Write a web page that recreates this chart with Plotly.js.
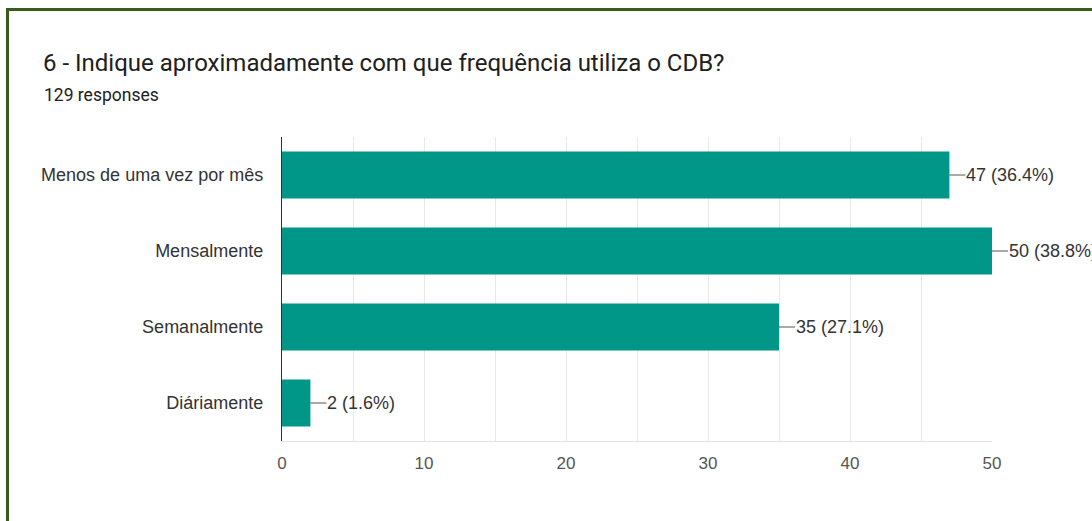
<!DOCTYPE html>
<html>
<head>
<meta charset="utf-8">
<script src="https://cdn.plot.ly/plotly-3.0.1.min.js"></script>
<style>
html,body{margin:0;padding:0;background:#fff;overflow:hidden;}
#frame{position:absolute;left:6px;top:8px;width:1200px;height:600px;border-top:3px solid #3b5a1e;border-left:3px solid #3b5a1e;box-sizing:border-box;}
#chart{position:absolute;left:0;top:0;width:1092px;height:521px;}
</style>
</head>
<body>
<div id="frame"></div>
<div id="chart"></div>
<script>
const titleText = "6 - Indique aproximadamente com que frequência utiliza o CDB?";
const subtitleText = "129 responses";
const categories = ["Menos de uma vez por mês", "Mensalmente", "Semanalmente", "Diáriamente"];
const counts = [47, 50, 35, 2];
const percents = ["36.4%", "38.8%", "27.1%", "1.6%"];
const xTickVals = [0, 10, 20, 30, 40, 50];

const labelFont = {family: "Liberation Sans, Arial, sans-serif", size: 18, color: "#333333"};

const annotations = categories.map((c, i) => ({
  x: counts[i], y: c, xref: "x", yref: "y",
  text: counts[i] + " (" + percents[i] + ")",
  showarrow: true, arrowhead: 0, arrowwidth: 1, arrowcolor: "#555555",
  ax: 16, ay: 0, xanchor: "left", yanchor: "middle",
  font: labelFont, borderpad: 0
}));
annotations.push({
  xref: "paper", yref: "paper", x: (42 - 282) / 710, y: 1 + (137 - 95) / 304,
  xanchor: "left", yanchor: "middle", showarrow: false,
  text: subtitleText,
  font: {family: "Roboto, sans-serif", size: 17.5, color: "#212121"}
});

const data = [{
  type: "bar", orientation: "h",
  x: counts, y: categories,
  marker: {color: "#009688"},
  width: 0.62,
  hoverinfo: "none"
}];

const layout = {
  width: 1092, height: 521,
  paper_bgcolor: "rgba(0,0,0,0)", plot_bgcolor: "rgba(0,0,0,0)",
  margin: {l: 282, r: 100, t: 137, b: 80},
  showlegend: false,
  title: {
    text: titleText,
    font: {family: "Roboto, sans-serif", size: 24, color: "#202020"},
    xref: "container", yref: "container",
    x: 43 / 1092, xanchor: "left",
    y: 1 - 63 / 521, yanchor: "middle"
  },
  xaxis: {
    range: [0, 50], tickvals: xTickVals, ticktext: xTickVals.map(String),
    showgrid: true, gridcolor: "#e9e9e9", gridwidth: 1,
    minor: {dtick: 5, showgrid: true, gridcolor: "#e9e9e9", gridwidth: 1},
    zeroline: false, showline: true, linecolor: "#e3e3e3", linewidth: 1,
    ticks: "", ticklabelstandoff: 7,
    tickfont: {family: "Liberation Sans, Arial, sans-serif", size: 17, color: "#555555"},
    fixedrange: true
  },
  yaxis: {
    type: "category", categoryorder: "array", categoryarray: categories,
    range: [3.5, -0.5],
    showgrid: false, zeroline: false,
    showline: true, linecolor: "#333333", linewidth: 1.2,
    ticks: "", ticklabelstandoff: 14,
    tickfont: labelFont,
    fixedrange: true
  },
  annotations: annotations
};

Plotly.newPlot("chart", data, layout, {displayModeBar: false, staticPlot: true});
</script>
</body>
</html>
